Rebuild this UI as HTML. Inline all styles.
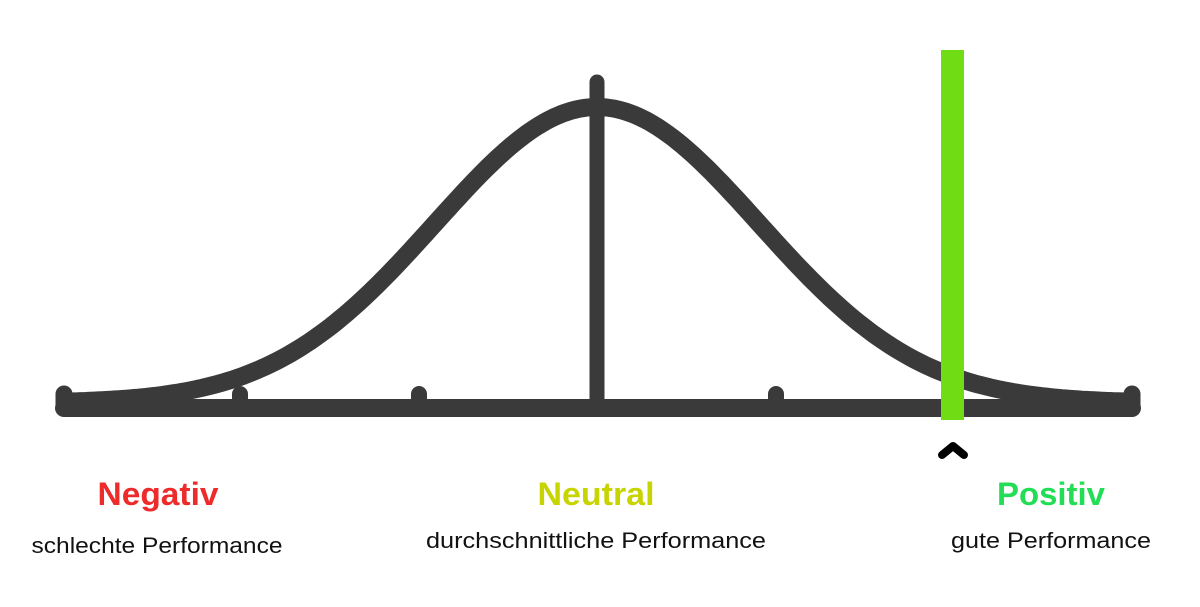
<!DOCTYPE html>
<html><head><meta charset="utf-8"><style>html,body{margin:0;padding:0;background:#fff;}svg{display:block}</style></head>
<body>
<svg width="1200" height="607" viewBox="0 0 1200 607" xmlns="http://www.w3.org/2000/svg">
<rect width="1200" height="607" fill="#fff"/>
<g stroke="#3a3a3a" stroke-linecap="round" fill="none">
<path id="curve" d="" stroke-width="18"/>
<line x1="64" y1="408" x2="1132" y2="408" stroke-width="18"/>
<line x1="64" y1="394" x2="64" y2="408" stroke-width="17"/>
<line x1="1132" y1="394" x2="1132" y2="408" stroke-width="17"/>
<line x1="240" y1="394" x2="240" y2="408" stroke-width="16"/>
<line x1="419" y1="394" x2="419" y2="408" stroke-width="16"/>
<line x1="776" y1="394" x2="776" y2="408" stroke-width="16"/>
<line x1="597" y1="82" x2="597" y2="408" stroke-width="15"/>
</g>
<rect x="941" y="50" width="23" height="370" fill="#6fdc14"/>
<polyline points="942,455 953,446 964,455" fill="none" stroke="#000" stroke-width="8" stroke-linecap="round" stroke-linejoin="round"/>
<g font-family="Liberation Sans, sans-serif" text-anchor="middle">
<text x="158" y="505" font-size="32" font-weight="bold" fill="#ee2b2b" textLength="121" lengthAdjust="spacingAndGlyphs">Negativ</text>
<text x="596" y="505" font-size="32" font-weight="bold" fill="#c8d400" textLength="117" lengthAdjust="spacingAndGlyphs">Neutral</text>
<text x="1051" y="505" font-size="32" font-weight="bold" fill="#22dd55" textLength="108" lengthAdjust="spacingAndGlyphs">Positiv</text>
<text x="157" y="553" font-size="22" fill="#111" textLength="251" lengthAdjust="spacingAndGlyphs">schlechte Performance</text>
<text x="596" y="548" font-size="22" fill="#111" textLength="340" lengthAdjust="spacingAndGlyphs">durchschnittliche Performance</text>
<text x="1051" y="548" font-size="22" fill="#111" textLength="200" lengthAdjust="spacingAndGlyphs">gute Performance</text>
</g>
<script>
(function(){var d="";for(var x=66;x<=1130;x+=4){var y=403-296*Math.exp(-Math.pow(x-597,2)/(2*162*162));d+=(x==66?"M":"L")+x+","+y.toFixed(1)+" ";}document.getElementById("curve").setAttribute("d",d);})();
</script>
</svg>
</body></html>
